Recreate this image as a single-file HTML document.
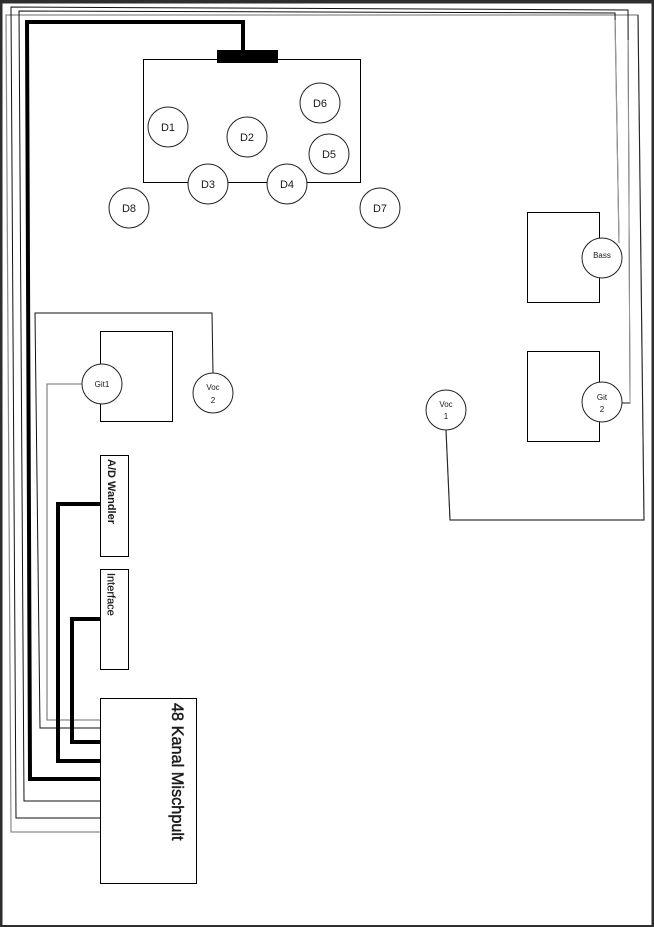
<!DOCTYPE html>
<html>
<head>
<meta charset="utf-8">
<style>
html,body{margin:0;padding:0;background:#fff;}
svg{display:block;}
text{font-family:"Liberation Sans",sans-serif;fill:#1a1a1a;}
</style>
</head>
<body>
<svg width="654" height="927" viewBox="0 0 654 927" xmlns="http://www.w3.org/2000/svg">
<rect x="0" y="0" width="654" height="927" fill="#fff"/>
<!-- frame -->
<rect x="0" y="0" width="654" height="3.5" fill="#2e2e2e"/>
<rect x="0" y="0" width="2.5" height="927" fill="#2e2e2e"/>
<rect x="651.5" y="0" width="2.5" height="927" fill="#2e2e2e"/>
<rect x="0" y="925" width="654" height="2" fill="#2e2e2e"/>

<g fill="none" stroke-linejoin="miter">
<!-- Voc1 wire (outermost) -->
<polyline points="446,430 450,520 644,520 638,15 6,15 11,832 101,832" stroke="#8a8a8a" stroke-width="1.2"/>
<polyline points="446,430 450,520 644,520 638,15" stroke="#222" stroke-width="1"/>
<!-- Git2 wire -->
<polyline points="622,403 630,403 628,10 11,7 16,818 101,818" stroke="#111" stroke-width="1"/>
<line x1="630" y1="403" x2="628" y2="40" stroke="#999" stroke-width="1"/>
<!-- Bass wire -->
<polyline points="619,243 615,13 19,11 24,801 101,801" stroke="#111" stroke-width="1"/>
<line x1="619" y1="243" x2="615" y2="20" stroke="#999" stroke-width="1.2"/>
<!-- main thick drum wire -->
<polyline points="243,52 243,22 27,22 30,779 101,779" stroke="#000" stroke-width="4"/>
<!-- Voc2 wire -->
<polyline points="213,373 212,313 35,313 40,728 101,728" stroke="#111" stroke-width="1"/>
<!-- Git1 wire -->
<polyline points="82,384 47,384 47,720 101,720" stroke="#8a8a8a" stroke-width="1.3"/>
<!-- A/D thick -->
<polyline points="101,504 58,504 58,761 102,761" stroke="#000" stroke-width="4"/>
<!-- Interface thick -->
<polyline points="101,619 72,619 72,742 102,742" stroke="#000" stroke-width="4"/>
</g>

<!-- drum box -->
<rect x="143.5" y="59.5" width="217" height="123" fill="none" stroke="#000" stroke-width="1"/>
<rect x="217" y="50" width="61" height="13" fill="#000"/>

<!-- amp boxes -->
<rect x="100.5" y="331.5" width="72" height="90" fill="#fff" stroke="#000" stroke-width="1"/>
<rect x="527.5" y="212.5" width="72" height="90" fill="#fff" stroke="#000" stroke-width="1"/>
<rect x="527.5" y="351.5" width="72" height="90" fill="#fff" stroke="#000" stroke-width="1"/>

<!-- A/D, Interface, Mixer -->
<rect x="100.5" y="455.5" width="28" height="101" fill="#fff" stroke="#000" stroke-width="1"/>
<rect x="100.5" y="569.5" width="28" height="100" fill="#fff" stroke="#000" stroke-width="1"/>
<rect x="100.5" y="698.5" width="96" height="185" fill="#fff" stroke="#000" stroke-width="1"/>

<!-- circles -->
<g fill="#fff" stroke="#222" stroke-width="1">
<circle cx="168" cy="127" r="20"/>
<circle cx="247" cy="137" r="20"/>
<circle cx="208" cy="184" r="20"/>
<circle cx="287" cy="184" r="20"/>
<circle cx="329" cy="154" r="20"/>
<circle cx="320" cy="103" r="20"/>
<circle cx="380" cy="208" r="20"/>
<circle cx="129" cy="208" r="20"/>
<circle cx="102" cy="384" r="20"/>
<circle cx="213" cy="393" r="20"/>
<circle cx="602" cy="258" r="20"/>
<circle cx="602" cy="402" r="20"/>
<circle cx="446" cy="410" r="20"/>
</g>

<!-- drum labels -->
<g font-size="11" text-anchor="middle">
<text x="168" y="131">D1</text>
<text x="247" y="141">D2</text>
<text x="208" y="188">D3</text>
<text x="287" y="188">D4</text>
<text x="329" y="158">D5</text>
<text x="320" y="107">D6</text>
<text x="380" y="212">D7</text>
<text x="129" y="212">D8</text>
</g>

<!-- instrument labels -->
<g font-size="8" text-anchor="middle">
<text x="102" y="387">Git1</text>
<text x="213" y="390">Voc</text>
<text x="213" y="403">2</text>
<text x="602" y="258">Bass</text>
<text x="602" y="400">Git</text>
<text x="602" y="412">2</text>
<text x="446" y="407">Voc</text>
<text x="446" y="419">1</text>
</g>

<!-- rotated labels -->
<text transform="translate(108,459) rotate(90)" font-size="11" font-weight="bold">A/D Wandler</text>
<text transform="translate(107.5,573) rotate(90)" font-size="11" stroke="#1a1a1a" stroke-width="0.2">Interface</text>
<text transform="translate(172,703) rotate(90)" font-size="16.3" stroke="#1a1a1a" stroke-width="0.45">48 Kanal Mischpult</text>
</svg>
</body>
</html>
